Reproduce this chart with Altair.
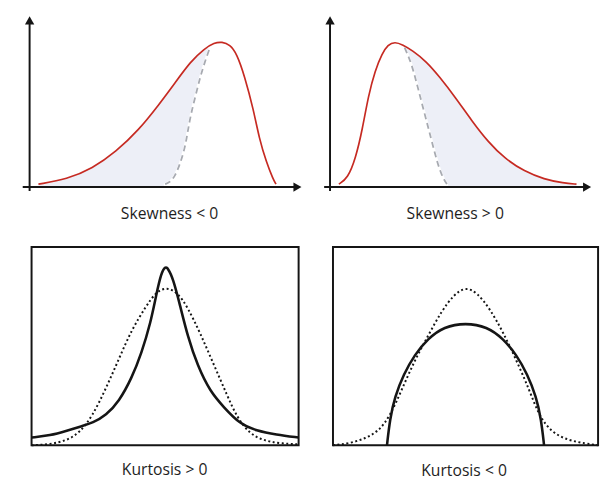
import altair as alt
import pandas as pd

# ---------- values (x: px right of origin, y: px above baseline) ----------
# Skewness < 0 (top left): red skewed curve and grey dashed reference curve
skneg_x = [9, 38, 64, 88, 111, 131, 148, 164, 178, 188, 196, 204, 211, 219, 228, 234, 241, 248, 251]
skneg_y = [3, 8, 19, 36, 58, 83, 106, 128, 141, 147, 148, 145, 136, 113, 79, 49, 26, 8, 3]
skneg_ref_x = [184, 179, 174, 169, 164, 161, 158, 153, 148, 143, 138]
skneg_ref_y = [143, 129, 113, 93, 73, 56, 39, 23, 11, 5, 3]

# Skewness > 0 (top right)
skpos_x = [9, 18, 26, 33, 39, 46, 53, 59, 66, 74, 84, 98, 111, 128, 144, 161, 178, 198, 218, 238, 251]
skpos_y = [3, 9, 29, 59, 93, 119, 136, 145, 148, 145, 139, 128, 113, 91, 68, 46, 29, 16, 8, 4, 3]
skpos_ref_x = [76, 83, 89, 96, 103, 109, 114, 119]
skpos_ref_y = [142, 126, 103, 76, 49, 26, 11, 3]

# Kurtosis > 0 (bottom left): solid leptokurtic curve, dotted normal curve
kpos_solid_x = [0, 19, 36, 52, 62, 76, 89, 102, 112, 121, 127, 132, 136, 139, 144, 151, 159, 169, 182, 196, 212, 229, 249, 272]
kpos_solid_y = [8, 10, 15, 20, 23, 31, 45, 69, 95, 125, 155, 177, 184, 182, 172, 145, 112, 82, 55, 39, 22, 15, 11, 8]
kpos_normal_x = [0, 19, 36, 49, 62, 76, 89, 102, 116, 126, 137, 149, 159, 172, 186, 199, 209, 222, 236, 252, 272]
kpos_normal_y = [0, 1, 5, 13, 30, 59, 89, 119, 142, 157, 163, 157, 142, 115, 82, 52, 29, 12, 5, 2, 1]

# Kurtosis < 0 (bottom right): solid platykurtic curve, dotted normal curve
kneg_solid_x = [55, 58, 63, 72, 83, 97, 113, 135, 157, 173, 187, 198, 207, 212, 215]
kneg_solid_y = [0, 27, 50, 73, 93, 110, 122, 126, 122, 110, 93, 73, 50, 27, 0]
kneg_normal_x = [0, 17, 33, 47, 58, 70, 83, 97, 110, 123, 135, 147, 160, 173, 187, 200, 210, 223, 240, 257, 270]
kneg_normal_y = [0, 2, 7, 15, 30, 57, 87, 113, 137, 155, 163, 157, 140, 117, 87, 57, 30, 13, 5, 2, 0]

titles = ["Skewness < 0", "Skewness > 0", "Kurtosis > 0", "Kurtosis < 0"]

RED = "#c62a22"
SHADE = "#edeff7"
GREY = "#a7aab1"
INK = "#151515"
FONT = "Open Sans"
INTERP = "basis"


def title(text, dx, offset):
    return alt.Title(text, orient="bottom", anchor="middle", fontSize=16, font=FONT,
                     fontWeight="normal", color="#1e1e1e", offset=offset, dx=dx,
                     baseline="top")


def skew_panel(cx, cy, rx, ry, shade_left, xdom, ydom, ttl):
    xs = alt.Scale(domain=xdom, nice=False, zero=False)
    ys = alt.Scale(domain=ydom, nice=False, zero=False)
    X = alt.X("x:Q", scale=xs, axis=None)
    Y = alt.Y("y:Q", scale=ys, axis=None)
    curve = pd.DataFrame({"x": cx, "y": cy})
    ref = pd.DataFrame({"x": rx, "y": ry})
    tx, ty = rx[0], ry[0]
    if shade_left:
        pts = [(x, y) for x, y in zip(cx, cy) if x < tx] + [(tx, ty)]
    else:
        pts = [(tx, ty)] + [(x, y) for x, y in zip(cx, cy) if x > tx]
    shade = pd.DataFrame(pts, columns=["x", "y"])

    tip_x = xdom[1]
    tip_y = ydom[1]
    rules = pd.DataFrame({"x": [xdom[0], 0], "x2": [tip_x - 5, 0],
                          "y": [0, ydom[0]], "y2": [0, tip_y - 5]})
    heads = pd.DataFrame({"x": [tip_x - 4.2, 0], "y": [0, tip_y - 4.2],
                          "shape": ["triangle-right", "triangle-up"]})

    l_shade = alt.Chart(shade).mark_area(color=SHADE, interpolate=INTERP).encode(
        x=X, y=Y, y2=alt.datum(0))
    l_mask = alt.Chart(ref).mark_area(color="white", stroke="white", strokeWidth=2.5,
                                       interpolate=INTERP).encode(x=X, y=Y, y2=alt.datum(0))
    l_curve = alt.Chart(curve).mark_line(color=RED, strokeWidth=1.7, interpolate=INTERP).encode(x=X, y=Y)
    l_ref = alt.Chart(ref).mark_line(color=GREY, strokeWidth=1.8, strokeDash=[6, 4],
                                      interpolate=INTERP).encode(x=X, y=Y)
    l_rules = alt.Chart(rules).mark_rule(color=INK, strokeWidth=2).encode(
        x=alt.X("x:Q", scale=xs, axis=None), x2="x2:Q",
        y=alt.Y("y:Q", scale=ys, axis=None), y2="y2:Q")
    l_heads = alt.Chart(heads).mark_point(filled=True, size=90, color=INK, opacity=1, strokeWidth=0).encode(
        x=X, y=Y, shape=alt.Shape("shape:N", scale=None))
    return alt.layer(l_shade, l_mask, l_curve, l_ref, l_rules, l_heads).properties(
        width=xdom[1] - xdom[0], height=ydom[1] - ydom[0], title=ttl)


def kurt_panel(sx, sy, nx, ny, xdom, box_w, ttl):
    ydom = [0, 204]
    xs = alt.Scale(domain=xdom, nice=False, zero=False)
    ys = alt.Scale(domain=ydom, nice=False, zero=False)
    X = alt.X("x:Q", scale=xs, axis=None)
    Y = alt.Y("y:Q", scale=ys, axis=None)
    solid = pd.DataFrame({"x": sx, "y": sy})
    normal = pd.DataFrame({"x": nx, "y": ny})
    frame = pd.DataFrame({"x": [0], "x2": [box_w], "y": [ydom[0]], "y2": [ydom[1]]})
    l_norm = alt.Chart(normal).mark_line(color=INK, strokeWidth=2, strokeDash=[2, 2.6],
                                          interpolate=INTERP).encode(x=X, y=Y)
    l_solid = alt.Chart(solid).mark_line(color=INK, strokeWidth=2.6, interpolate=INTERP).encode(x=X, y=Y)
    l_box = alt.Chart(frame).mark_rect(fillOpacity=0, stroke=INK, strokeWidth=2).encode(
        x=alt.X("x:Q", scale=xs, axis=None), x2="x2:Q",
        y=alt.Y("y:Q", scale=ys, axis=None), y2="y2:Q")
    return alt.layer(l_norm, l_solid, l_box).properties(
        width=xdom[1] - xdom[0], height=202, title=ttl)


p1 = skew_panel(skneg_x, skneg_y, skneg_ref_x, skneg_ref_y, True, [-7, 277], [-4, 174],
                title(titles[0], 7.5, 14))
p2 = skew_panel(skpos_x, skpos_y, skpos_ref_x, skpos_ref_y, False, [-6, 266], [-4, 174],
                title(titles[1], -2.5, 14))
p3 = kurt_panel(kpos_solid_x, kpos_solid_y, kpos_normal_x, kpos_normal_y, [-9, 272], 272,
                title(titles[2], 4, 13))
p4 = kurt_panel(kneg_solid_x, kneg_solid_y, kneg_normal_x, kneg_normal_y, [0, 270], 270,
                title(titles[3], -1.5, 13))

top = alt.hconcat(p1, p2, spacing=22)
bottom = alt.hconcat(p3, p4, spacing=25)
chart = alt.vconcat(top, bottom, spacing=25).properties(
    padding={"left": 14, "top": 4, "right": 0, "bottom": 0},
    background="white",
).configure_view(stroke=None)

chart.save("out.html", embed_options={"renderer": "svg", "actions": False})
